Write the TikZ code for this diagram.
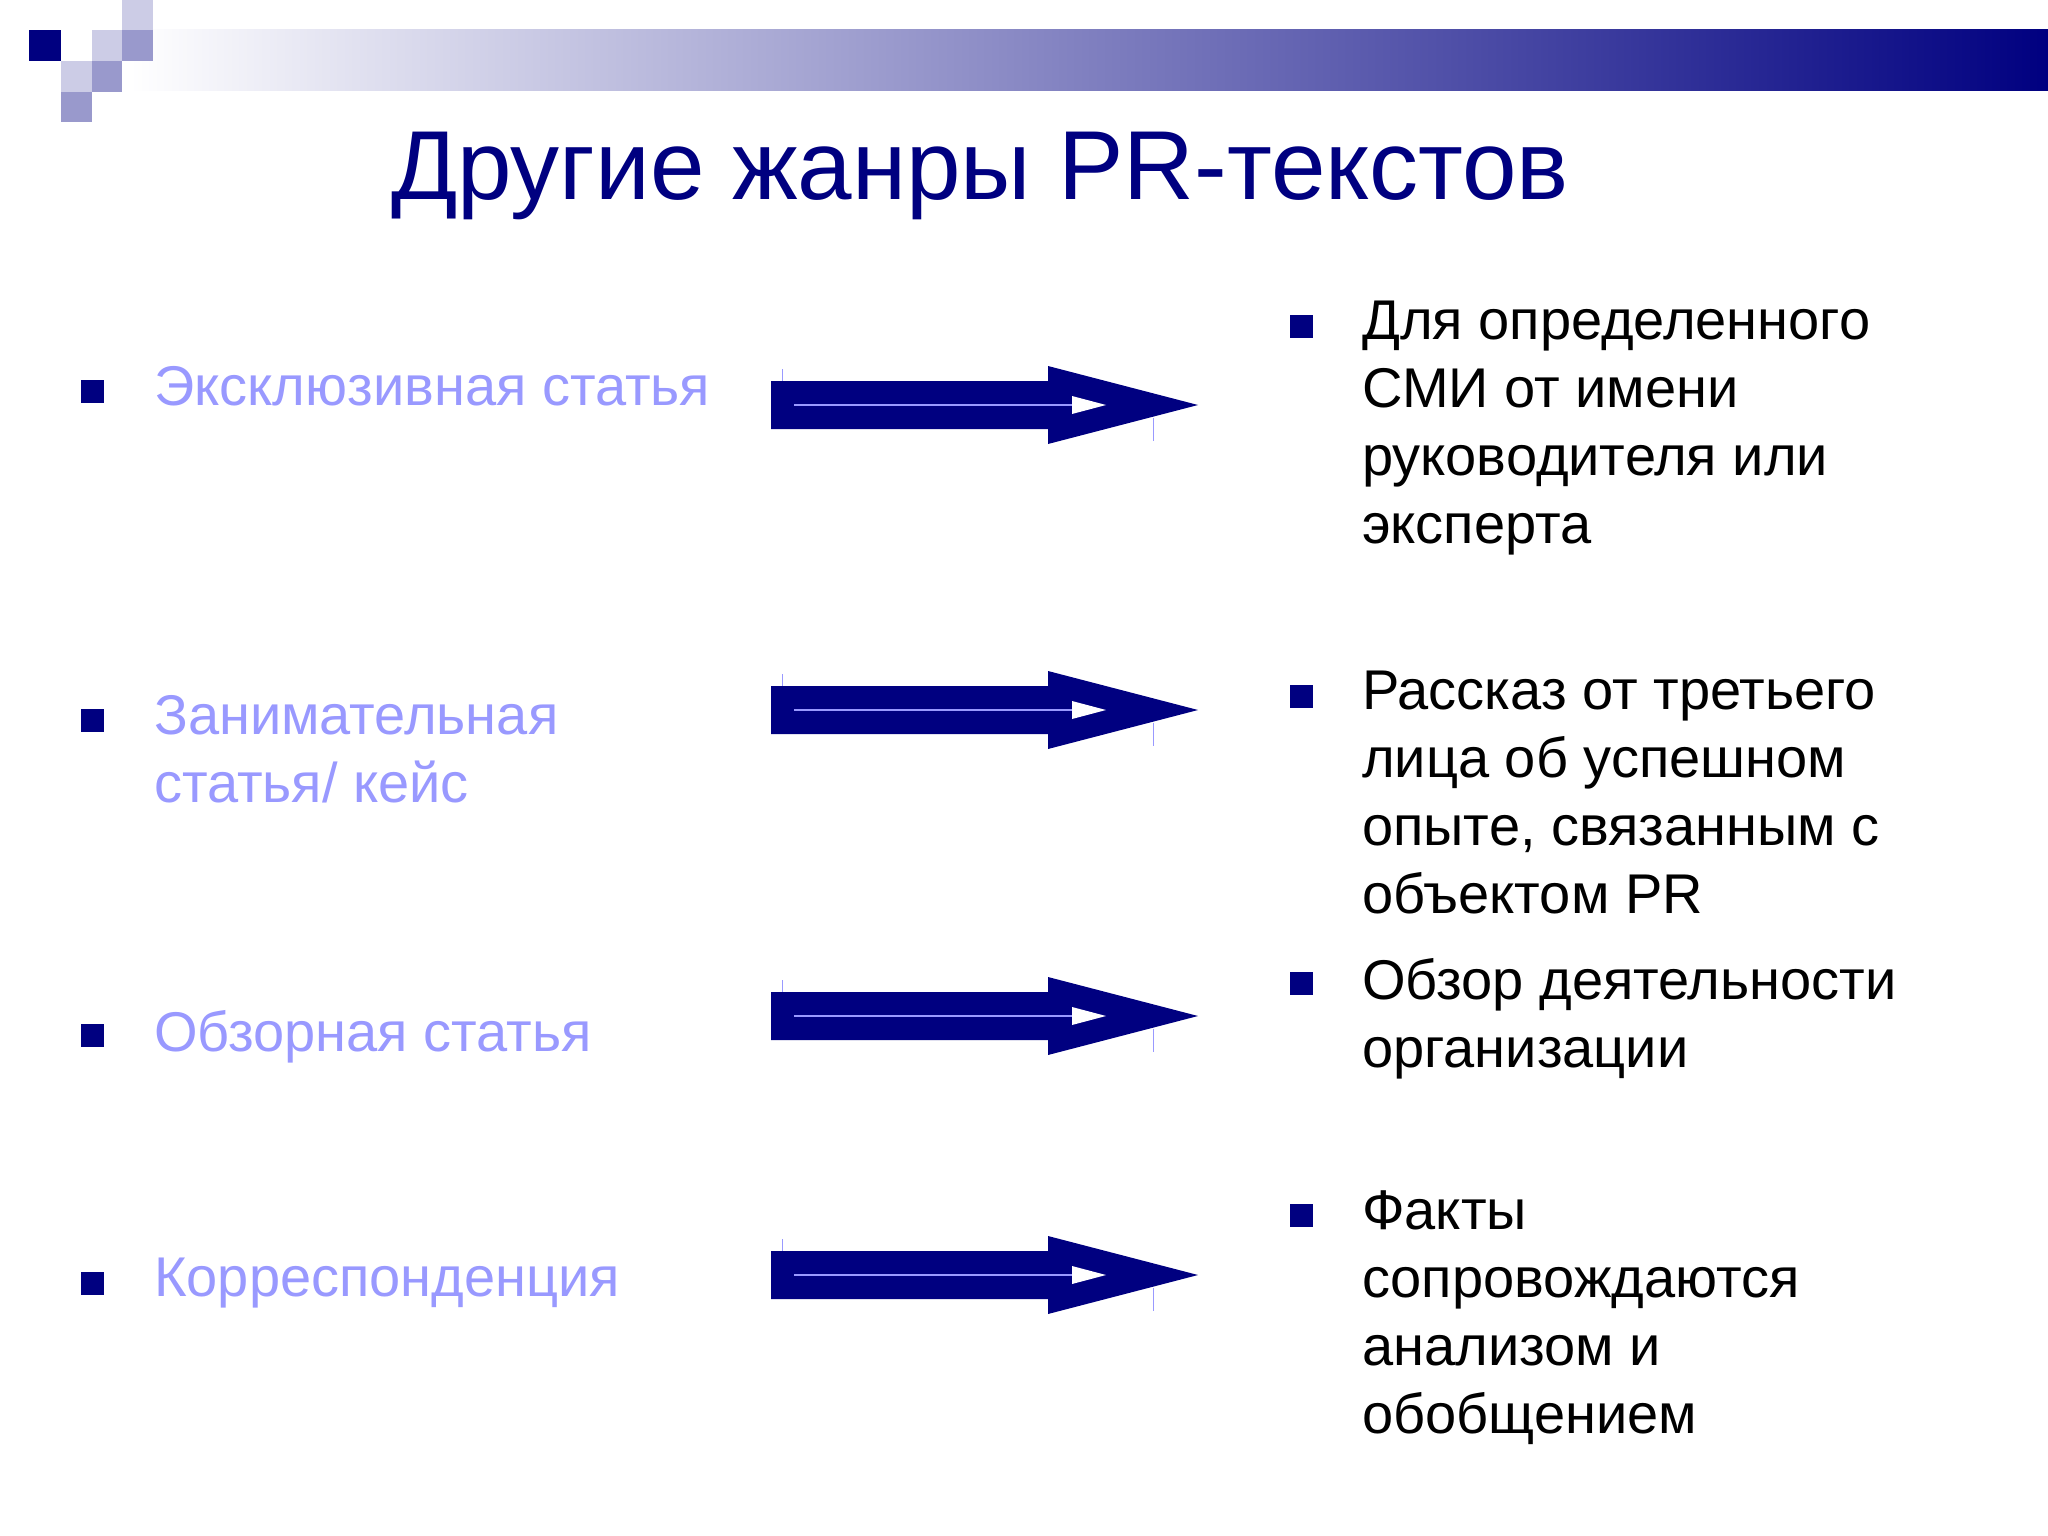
\documentclass[tikz,border=0pt]{standalone}
\usepackage{fontspec}
\setmainfont{Liberation Sans}
\definecolor{navy}{RGB}{0,0,128}
\definecolor{lav}{RGB}{153,153,255}
\definecolor{sqa}{RGB}{204,204,230}
\definecolor{sqb}{RGB}{153,153,204}
\begin{document}
\begin{tikzpicture}[x=1pt,y=-1pt,
  lefttxt/.style={anchor=north west,inner sep=0,align=left,text=lav,font=\fontsize{56}{68}\selectfont},
  righttxt/.style={anchor=north west,inner sep=0,align=left,text=black,font=\fontsize{56}{68}\selectfont},
  bul/.style={fill=navy,minimum size=23,inner sep=0}]
\useasboundingbox (0,0) rectangle (2048,1536);
\fill[white] (0,0) rectangle (2048,1536);
% top band
\shade[left color=white,right color=navy] (130,30) rectangle (2048,91);
\fill[navy] (29,30) rectangle (61,61);
\fill[sqa] (92,30) rectangle (122,61);
\fill[sqb] (122,30) rectangle (153,61);
\fill[sqa] (122,0) rectangle (153,30);
\fill[sqa] (61,61) rectangle (92,92);
\fill[sqb] (92,61) rectangle (122,92);
\fill[sqb] (61,92) rectangle (92,122);
% title
\node (title) at (980,176) {\color{navy}\fontsize{98}{110}\selectfont Другие жанры PR-текстов};
% arrows
\foreach \n/\y in {a/405,b/710,c/1016,d/1275}{
  \fill[navy] (771,\y-24) -- (1048,\y-24) -- (1048,\y-39) -- (1198,\y) -- (1048,\y+39) -- (1048,\y+24) -- (771,\y+24) -- cycle;
  \draw[lav,line width=1.5] (794,\y) -- (1072,\y);
  \fill[white] (1072,\y-9) -- (1106,\y) -- (1072,\y+9) -- cycle;
  \draw[lav,line width=1] (782,\y-36) -- (782,\y-24);
  \draw[lav,line width=1] (1153,\y+13) -- (1153,\y+36);
  \coordinate (arr\n) at (771,\y);
}
% left items
\node[bul] (lb1) at (92,391) {};
\node[lefttxt] (l1) at (154,366) {Эксклюзивная статья};
\node[bul] (lb2) at (92,720) {};
\node[lefttxt] (l2) at (154,695) {Занимательная\\статья/ кейс};
\node[bul] (lb3) at (92,1035) {};
\node[lefttxt] (l3) at (154,1010) {Обзорная статья};
\node[bul] (lb4) at (92,1283) {};
\node[lefttxt] (l4) at (154,1258) {Корреспонденция};
% right items
\node[bul] (rb1) at (1301,326) {};
\node[righttxt] (r1) at (1362,301) {Для определенного\\СМИ от имени\\руководителя или\\эксперта};
\node[bul] (rb2) at (1301,696) {};
\node[righttxt] (r2) at (1362,671) {Рассказ от третьего\\лица об успешном\\опыте, связанным с\\объектом PR};
\node[bul] (rb3) at (1301,983) {};
\node[righttxt] (r3) at (1362,958) {Обзор деятельности\\организации};
\node[bul] (rb4) at (1301,1215) {};
\node[righttxt] (r4) at (1362,1190) {Факты\\сопровождаются\\анализом и\\обобщением};
\end{tikzpicture}
\end{document}
